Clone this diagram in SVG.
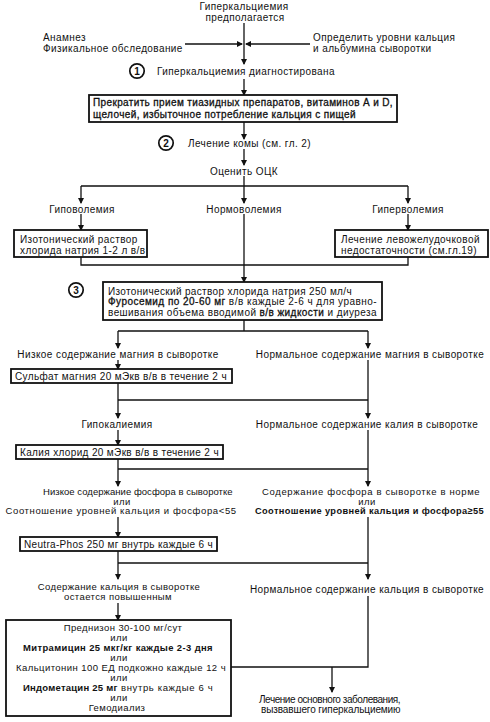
<svg xmlns="http://www.w3.org/2000/svg" width="490" height="722" viewBox="0 0 490 722">
<defs>
<marker id="ah" markerWidth="6" markerHeight="9" refX="5" refY="4.5" orient="auto" markerUnits="userSpaceOnUse">
<path d="M0,1.5 L6,4.5 L0,7.5 Z" fill="#111"/>
</marker>
<style>
.t{font-family:"Liberation Sans",Arial,sans-serif;font-size:10px;fill:#111;letter-spacing:0.4px}
.s{font-size:9.5px}
.m{text-anchor:middle}
.b{font-weight:bold}
.h{stroke:#111;stroke-width:0.3px}
.box{fill:#fff;stroke:#111;stroke-width:1.8}
.ln{stroke:#111;stroke-width:1.3;fill:none}
.ar{marker-end:url(#ah)}
.c{fill:#fff;stroke:#111;stroke-width:1.7}
.n{font-family:"Liberation Sans",Arial,sans-serif;font-size:10px;font-weight:bold;fill:#111;text-anchor:middle}
</style>
</defs>
<rect width="490" height="722" fill="#fff"/>
<g id="connectors">
<path class="ln ar" d="M244,23 V64"/>
<path class="ln ar" d="M185,44 H242"/>
<path class="ln ar" d="M310,44 H246"/>
<path class="ln ar" d="M244,79 V95"/>
<path class="ln ar" d="M244,122 V139"/>
<path class="ln ar" d="M244,149 V165"/>
<path class="ln" d="M244,176 V186 M81,186 H408"/>
<path class="ln ar" d="M244,186 V203"/>
<path class="ln ar" d="M81,186 V203"/>
<path class="ln ar" d="M408,186 V203"/>
<path class="ln ar" d="M81,214 V230"/>
<path class="ln ar" d="M408,214 V230"/>
<path class="ln ar" d="M244,214 V282"/>
<path class="ln" d="M81,257 V265 H408 V257"/>
<path class="ln" d="M244,320 V331 M118,331 H368"/>
<path class="ln ar" d="M118,331 V348"/>
<path class="ln ar" d="M368,331 V348"/>
<path class="ln ar" d="M118,360 V369"/>
<path class="ln ar" d="M118,383 V418"/>
<path class="ln ar" d="M368,360 V418"/>
<path class="ln" d="M118,400 H368"/>
<path class="ln ar" d="M118,430 V445"/>
<path class="ln ar" d="M118,459 V486"/>
<path class="ln ar" d="M368,430 V486"/>
<path class="ln" d="M118,469 H368"/>
<path class="ln ar" d="M118,517 V537"/>
<path class="ln ar" d="M118,551 V579"/>
<path class="ln ar" d="M368,517 V579"/>
<path class="ln" d="M118,563 H368"/>
<path class="ln ar" d="M118,603 V620"/>
<path class="ln" d="M231,667 H368 V596"/>
<path class="ln ar" d="M332,667 V692"/>
</g>
<g id="n-suspected">
<text class="t m" x="244" y="10">Гиперкальциемия</text>
<text class="t m" x="245" y="21">предполагается</text>
</g>
<g id="n-history">
<text class="t" x="43" y="41">Анамнез</text>
<text class="t" x="43" y="52">Физикальное обследование</text>
</g>
<g id="n-labs">
<text class="t" x="313" y="41">Определить уровни кальция</text>
<text class="t" x="313" y="52">и альбумина сыворотки</text>
</g>
<g id="n-diagnosed">
<circle class="c" cx="137" cy="71" r="7.2"/>
<text class="n" x="137" y="74.6">1</text>
<text class="t" x="157" y="75">Гиперкальциемия диагностирована</text>
</g>
<g id="n-stop">
<rect class="box" x="89" y="95" width="308" height="27"/>
<text class="t h" x="93" y="106" textLength="300" lengthAdjust="spacing">Прекратить прием тиазидных препаратов, витаминов А и D,</text>
<text class="t h" x="93" y="118" textLength="263" lengthAdjust="spacing">щелочей, избыточное потребление кальция с пищей</text>
</g>
<g id="n-coma">
<circle class="c" cx="166" cy="143" r="7.2"/>
<text class="n" x="166" y="146.6">2</text>
<text class="t" x="188" y="147">Лечение комы (см. гл. 2)</text>
</g>
<g id="n-assess">
<text class="t m" x="244" y="175">Оценить ОЦК</text>
</g>
<g id="n-hypo">
<text class="t m" x="82" y="213">Гиповолемия</text>
</g>
<g id="n-normo">
<text class="t m" x="244" y="213">Нормоволемия</text>
</g>
<g id="n-hyper">
<text class="t m" x="408" y="213">Гиперволемия</text>
</g>
<g id="n-saline">
<rect class="box" x="14" y="230" width="133" height="27"/>
<text class="t" x="20" y="243">Изотонический раствор</text>
<text class="t" x="20" y="253.5">хлорида натрия 1-2 л в/в</text>
</g>
<g id="n-lvf">
<rect class="box" x="335" y="230" width="153" height="27"/>
<text class="t" x="341" y="243">Лечение левожелудочковой</text>
<text class="t" x="341" y="253.5">недостаточности (см.гл.19)</text>
</g>
<g id="n-furosemide">
<circle class="c" cx="76" cy="290" r="7.2"/>
<text class="n" x="76" y="293.6">3</text>
<rect class="box" x="103" y="282" width="279" height="38"/>
<text class="t" x="108" y="294.5" textLength="244" lengthAdjust="spacing">Изотонический раствор хлорида натрия 250 мл/ч</text>
<text class="t" x="108" y="305" textLength="269" lengthAdjust="spacing"><tspan class="h">Фуросемид по 20-60 мг</tspan> в/в каждые 2-6 ч для уравно-</text>
<text class="t" x="108" y="315.5" textLength="269" lengthAdjust="spacing">вешивания объема вводимой <tspan class="h">в/в жидкости</tspan> и диуреза</text>
</g>
<g id="n-lowmg">
<text class="t m" x="118" y="358">Низкое содержание магния в сыворотке</text>
</g>
<g id="n-normmg">
<text class="t m" x="370" y="358">Нормальное содержание магния в сыворотке</text>
</g>
<g id="n-mgso4">
<rect class="box" x="11" y="369" width="221" height="14"/>
<text class="t" x="15" y="380" textLength="212" lengthAdjust="spacing">Сульфат магния 20 мЭкв в/в в течение 2 ч</text>
</g>
<g id="n-hypok">
<text class="t m" x="117" y="428">Гипокалиемия</text>
</g>
<g id="n-normk">
<text class="t m" x="367" y="428">Нормальное содержание калия в сыворотке</text>
</g>
<g id="n-kcl">
<rect class="box" x="16" y="445" width="207" height="14"/>
<text class="t" x="20" y="456" textLength="199" lengthAdjust="spacing">Калия хлорид 20 мЭкв в/в в течение 2 ч</text>
</g>
<g id="n-lowp">
<text class="t s m" x="138" y="495" textLength="190" lengthAdjust="spacing">Низкое содержание фосфора в сыворотке</text>
<text class="t s m" x="122" y="504.5">или</text>
<text class="t s m" x="121" y="514" textLength="231" lengthAdjust="spacing">Соотношение уровней кальция и фосфора&lt;55</text>
</g>
<g id="n-normp">
<text class="t s m" x="371" y="495" textLength="218" lengthAdjust="spacing">Содержание фосфора в сыворотке в норме</text>
<text class="t s m" x="367" y="504.5">или</text>
<text class="t s m b" x="369.5" y="514" letter-spacing="0" textLength="229" lengthAdjust="spacingAndGlyphs">Соотношение уровней кальция и фосфора≥55</text>
</g>
<g id="n-neutra">
<rect class="box" x="20" y="537" width="197" height="14"/>
<text class="t" x="24" y="548" textLength="189" lengthAdjust="spacing">Neutra-Phos 250 мг внутрь каждые 6 ч</text>
</g>
<g id="n-highca">
<text class="t s m" x="119" y="590">Содержание кальция в сыворотке</text>
<text class="t s m" x="118" y="600">остается повышенным</text>
</g>
<g id="n-normca">
<text class="t m" x="367" y="593">Нормальное содержание кальция в сыворотке</text>
</g>
<g id="n-drugs">
<rect class="box" x="6" y="620" width="225" height="96"/>
<text class="t s m" x="123" y="630.5">Преднизон 30-100 мг/сут</text>
<text class="t s m" x="119" y="640.5">или</text>
<text class="t s m b" x="118" y="650.5" letter-spacing="0" textLength="190" lengthAdjust="spacingAndGlyphs">Митрамицин 25 мкг/кг каждые 2-3 дня</text>
<text class="t s m" x="119" y="660.5">или</text>
<text class="t s m" x="121" y="670.5" textLength="210" lengthAdjust="spacing">Кальцитонин 100 ЕД подкожно каждые 12 ч</text>
<text class="t s m" x="119" y="680.5">или</text>
<text class="t s m" x="118" y="690.5" textLength="190" lengthAdjust="spacing"><tspan class="b" letter-spacing="0">Индометацин 25 мг</tspan>  внутрь каждые 6 ч</text>
<text class="t s m" x="119" y="700.5">или</text>
<text class="t s m" x="117" y="710.5">Гемодиализ</text>
</g>
<g id="n-underlying">
<text class="t m" x="330" y="703" textLength="142" lengthAdjust="spacing">Лечение основного заболевания,</text>
<text class="t m" x="331" y="713" textLength="140" lengthAdjust="spacing">вызвавшего гиперкальциемию</text>
</g>
</svg>
